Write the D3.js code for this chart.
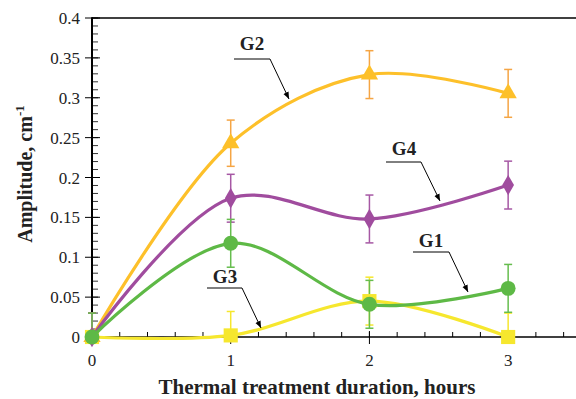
<!DOCTYPE html>
<html><head><meta charset="utf-8">
<script src="https://cdn.jsdelivr.net/npm/d3@7"></script>
<style>body{margin:0;background:#fff}svg{display:block}text{font-family:"Liberation Serif","Times New Roman",serif}</style>
</head><body><svg id="c" width="576" height="399"></svg>
<script>
const hours = [0, 1, 2, 3];
const g1 = [0, 0.1175, 0.041, 0.061];
const g2 = [0, 0.243, 0.329, 0.3055];
const g3 = [0, 0.002, 0.045, 0];
const g4 = [0, 0.174, 0.148, 0.1905];
const g1Err = [0.03, 0.03, 0.03, 0.03];
const g2Err = [0.03, 0.029, 0.03, 0.03];
const g3Err = [0.03, 0.03, 0.03, 0.03];
const g4Err = [0.03, 0.03, 0.03, 0.03];
const yTicks = [0, 0.05, 0.1, 0.15, 0.2, 0.25, 0.3, 0.35, 0.4];
const yTickLabels = ["0", "0.05", "0.1", "0.15", "0.2", "0.25", "0.3", "0.35", "0.4"];
const xTicks = [0, 1, 2, 3];
const xLabel = "Thermal treatment duration, hours";
const yLabel = "Amplitude, cm";

const svg = d3.select("#c");
const x = d3.scaleLinear().domain([0, 3.5]).range([92, 577.5]);
const y = d3.scaleLinear().domain([0, 0.4]).range([337, 18]);

svg.append("defs").append("clipPath").attr("id", "pc")
  .append("rect").attr("x", 80).attr("y", 0).attr("width", 500).attr("height", y(0));
svg.select("defs").append("marker").attr("id", "ah").attr("viewBox", "0 0 10 10")
  .attr("refX", 10).attr("refY", 5).attr("markerWidth", 7).attr("markerHeight", 7)
  .attr("markerUnits", "userSpaceOnUse").attr("orient", "auto")
  .append("path").attr("d", "M0,1 L10,5 L0,9 Z").attr("fill", "#000");

// frame top
svg.append("line").attr("x1", x(0)).attr("x2", 577).attr("y1", y(0.4)).attr("y2", y(0.4))
  .attr("stroke", "#000").attr("stroke-width", 1.5);

// x axis
const xMinor = d3.range(0, 3.5001, 0.2);
svg.append("g").selectAll("line").data(xMinor).join("line")
  .attr("x1", d => x(d)).attr("x2", d => x(d)).attr("y1", y(0)).attr("y2", y(0) - 5)
  .attr("stroke", "#000").attr("stroke-width", 1);
svg.append("g").selectAll("line").data(xTicks).join("line")
  .attr("x1", d => x(d)).attr("x2", d => x(d)).attr("y1", y(0) - 6).attr("y2", y(0) + 7)
  .attr("stroke", "#000").attr("stroke-width", 1);
svg.append("line").attr("x1", x(0)).attr("x2", 577).attr("y1", y(0)).attr("y2", y(0))
  .attr("stroke", "#000").attr("stroke-width", 1.6);
svg.append("g").selectAll("text").data(xTicks).join("text")
  .attr("x", d => x(d)).attr("y", y(0) + 29).attr("text-anchor", "middle")
  .attr("font-size", 17).attr("fill", "#222").text(d => d);

// y axis
const yMinor = d3.range(0, 0.4001, 0.01);
svg.append("g").selectAll("line").data(yMinor).join("line")
  .attr("x1", x(0)).attr("x2", x(0) + 6).attr("y1", d => y(d)).attr("y2", d => y(d))
  .attr("stroke", "#000").attr("stroke-width", 0.8);
svg.append("g").selectAll("line").data(yTicks).join("line")
  .attr("x1", x(0) - 7).attr("x2", x(0) + 8).attr("y1", d => y(d)).attr("y2", d => y(d))
  .attr("stroke", "#000").attr("stroke-width", 1);
svg.append("line").attr("x1", x(0)).attr("x2", x(0)).attr("y1", y(0.4) - 0.75).attr("y2", y(0))
  .attr("stroke", "#000").attr("stroke-width", 2);
svg.append("g").selectAll("text").data(yTicks).join("text")
  .attr("x", 80).attr("y", d => y(d) + 6).attr("text-anchor", "end")
  .attr("font-size", 17).attr("fill", "#222").text((d, i) => yTickLabels[i]);

// titles
svg.append("text").attr("x", 317).attr("y", 394).attr("text-anchor", "middle")
  .attr("font-size", 21).attr("font-weight", "bold").attr("fill", "#222").text(xLabel);
const yt = svg.append("text").attr("transform", "translate(32,174) rotate(-90)")
  .attr("text-anchor", "middle").attr("font-size", 20).attr("font-weight", "bold").attr("fill", "#222");
yt.append("tspan").text(yLabel);
yt.append("tspan").attr("dy", -8).attr("font-size", 13).text("-1");

// series
const series = [
  {name: "G3", v: g3, e: g3Err, line: "#F6E72E", err: "#F6E72E", sym: d3.symbolSquare, size: 200},
  {name: "G2", v: g2, e: g2Err, line: "#FDC02A", err: "#F5A544", sym: d3.symbolTriangle, size: 130},
  {name: "G4", v: g4, e: g4Err, line: "#A04C9E", err: "#A658A4", sym: d3.symbolDiamond, size: 120},
  {name: "G1", v: g1, e: g1Err, line: "#5EB946", err: "#66BD4E", sym: d3.symbolCircle, size: 175}
];
const lineGen = d3.line().x((d, i) => x(hours[i])).y(d => y(d)).curve(d3.curveCatmullRom.alpha(0.5));
const plot = svg.append("g").attr("clip-path", "url(#pc)");
series.forEach(s => {
  const eg = plot.append("g").attr("stroke", s.err).attr("stroke-width", 1.5);
  hours.forEach((h, i) => {
    const lo = Math.max(0, s.v[i] - s.e[i]), hi = s.v[i] + s.e[i];
    eg.append("line").attr("x1", x(h)).attr("x2", x(h)).attr("y1", y(lo)).attr("y2", y(hi));
    eg.append("line").attr("x1", x(h) - 4).attr("x2", x(h) + 4).attr("y1", y(hi)).attr("y2", y(hi));
    if (s.v[i] - s.e[i] >= 0)
      eg.append("line").attr("x1", x(h) - 4).attr("x2", x(h) + 4).attr("y1", y(lo)).attr("y2", y(lo));
  });
});
series.forEach(s => {
  svg.append("path").datum(s.v).attr("d", lineGen).attr("fill", "none")
    .attr("stroke", s.line).attr("stroke-width", 3.2);
  svg.append("g").selectAll("path").data(s.v).join("path")
    .attr("transform", (d, i) => `translate(${x(hours[i])},${y(d)})`)
    .attr("d", d3.symbol().type(s.sym).size(s.size)).attr("fill", s.line);
});

// annotations
const notes = [
  {t: "G2", tx: 252, ty: 50, l: [234, 59, 270, 59], a: [289, 99]},
  {t: "G4", tx: 404, ty: 155, l: [386, 162, 421, 162], a: [440, 201]},
  {t: "G1", tx: 431, ty: 247, l: [413, 252, 449, 252], a: [468, 292]},
  {t: "G3", tx: 225, ty: 283, l: [207, 288, 242, 288], a: [261, 328]}
];
notes.forEach(n => {
  svg.append("text").attr("x", n.tx).attr("y", n.ty).attr("text-anchor", "middle")
    .attr("font-size", 19).attr("font-weight", "bold").attr("fill", "#222").text(n.t);
  svg.append("path").attr("d", `M${n.l[0]},${n.l[1]}L${n.l[2]},${n.l[3]}L${n.a[0]},${n.a[1]}`)
    .attr("fill", "none").attr("stroke", "#000").attr("stroke-width", 1).attr("marker-end", "url(#ah)");
});
</script></body></html>
